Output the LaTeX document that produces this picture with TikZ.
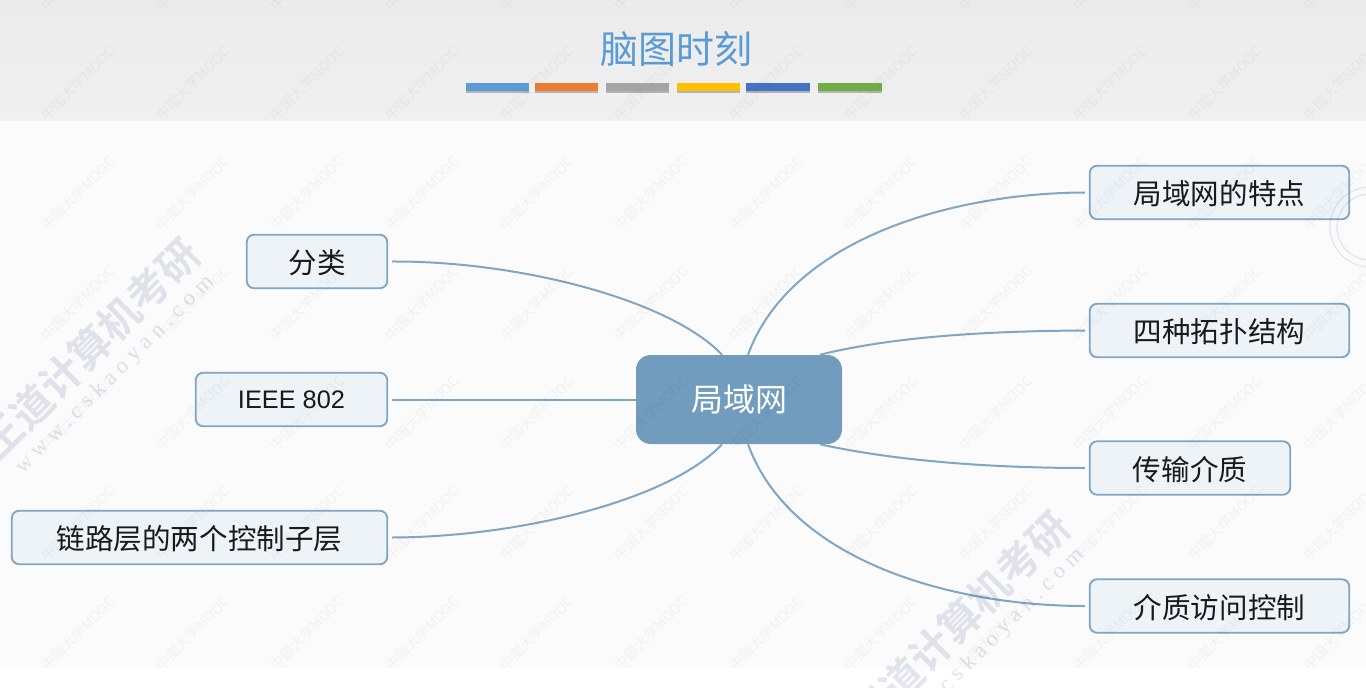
\documentclass[tikz,border=0pt]{standalone}
\usepackage{fontspec}
\usetikzlibrary{calc}
\setmainfont{Noto Sans CJK SC}
\newfontfamily\latinf{Liberation Sans}
\newfontfamily\urlf[LetterSpace=26]{Liberation Serif}
\newfontfamily\cjkbold{Noto Sans CJK SC Bold}
\definecolor{bandtop}{HTML}{EBEBEB}
\definecolor{bandbot}{HTML}{F0F0F0}
\definecolor{bodybg}{HTML}{FBFBFB}
\definecolor{linkc}{HTML}{7FA6C4}
\definecolor{hubc}{HTML}{719CBD}
\definecolor{boxc}{HTML}{EEF3F8}
\definecolor{wmbig}{HTML}{3F4F8F}
\definecolor{titlec}{HTML}{5B9BD5}
\tikzset{
  x=0.75pt,y=-0.75pt,
  link/.style={draw=linkc,line width=1.5pt},
  topic/.style={draw=linkc,fill=boxc,line width=1.4pt,rounded corners=5.5pt,inner sep=0pt,
     minimum height=53.5*0.75pt,text height=20pt,text depth=1.6pt,
     font=\fontsize{21.4pt}{24pt}\selectfont,text=black!90},
  hub/.style={fill=hubc,rounded corners=11pt,inner sep=0pt,minimum width=206*0.75pt,
     minimum height=89*0.75pt,text=white,font=\fontsize{24pt}{28pt}\selectfont},
  bar/.style={minimum width=63.5*0.75pt,minimum height=8*0.75pt,inner sep=0pt},
  barshadow/.style={fill=black,opacity=.25,minimum width=63.5*0.75pt,minimum height=8*0.75pt,inner sep=0pt},
  wmsmall/.style={rotate=45,text=black,opacity=.04,font=\fontsize{10.5pt}{12pt}\selectfont,inner sep=0pt},
  wmlarge/.style={rotate=45,text=wmbig,opacity=.14,font=\fontsize{31pt}{34pt}\cjkbold,inner sep=0pt},
  wmurl/.style={rotate=45,text=wmbig,opacity=.16,font=\fontsize{17pt}{19pt}\urlf,inner sep=0pt},
  seal/.style={draw=wmbig,opacity=.12,line width=1pt,fill=none},
}
\begin{document}
\begin{tikzpicture}
\useasboundingbox (0,0) rectangle (1366,688);
\begin{scope}
\clip (0,0) rectangle (1366,688);
\fill[white] (0,0) rectangle (1366,688);
\shade[top color=bandtop,bottom color=bandbot] (0,0) rectangle (1366,121);
\fill[bodybg] (0,121) rectangle (1366,668);

% title
\node[text=titlec,inner sep=0pt,font=\fontsize{28.5pt}{32pt}\selectfont] (title) at (676,49) {脑图时刻};
\foreach \n/\cx/\col in {a/497.5/5B9BD5,b/566.5/ED7D31,c/637.5/A5A5A5,d/708.5/FFC000,e/778/4472C4,f/850/70AD47}{
  \node[barshadow] (s\n) at (\cx,89.5) {};
  \definecolor{barc}{HTML}{\col}
  \node[bar,fill=barc] (b\n) at (\cx,87) {};
}

% nodes
\node[hub] (hubn) at (739,399.5) {局域网};
\node[topic,minimum width=259.5*0.75pt] (n1) at (1219.5,192.5) {局域网的特点};
\node[topic,minimum width=259.5*0.75pt] (n2) at (1219.5,330.5) {四种拓扑结构};
\node[topic,minimum width=200.5*0.75pt] (n3) at (1190,468) {传输介质};
\node[topic,minimum width=259.5*0.75pt] (n4) at (1219.5,606) {介质访问控制};
\node[topic,minimum width=140.5*0.75pt] (m1) at (317,261.5) {分类};
\node[topic,minimum width=191.5*0.75pt,text height=14pt,text depth=0.3pt,font=\fontsize{19pt}{22pt}\latinf] (m2) at (291.5,399.5) {IEEE 802};
\node[topic,minimum width=375.5*0.75pt] (m3) at (199.5,537.5) {链路层的两个控制子层};

% connectors
\draw[link] ($(hubn.north)+(9,0)$) .. controls (790,240) and (950,193) .. ($(n1.west)+(-4,0)$);
\draw[link] ($(hubn.north)+(81,0)$) .. controls (900,335) and (1000,331) .. ($(n2.west)+(-4,0)$);
\draw[link] ($(hubn.south)+(81,0)$) .. controls (900,462) and (1000,468) .. ($(n3.west)+(-4,0)$);
\draw[link] ($(hubn.south)+(9,0)$) .. controls (790,560) and (950,606) .. ($(n4.west)+(-4,0)$);
\draw[link] ($(hubn.north)+(-17,0)$) .. controls (670,300) and (520,261) .. ($(m1.east)+(4,0)$);
\draw[link] (hubn.west) -- ($(m2.east)+(4,0)$);
\draw[link] ($(hubn.south)+(-17,0)$) .. controls (670,500) and (520,537) .. ($(m3.east)+(4,0)$);

% watermarks
\foreach \k in {-1,...,11}{
  \foreach \r in {-1,...,5}{
    \pgfmathsetmacro{\wx}{78+114.7*\k}
    \pgfmathsetmacro{\wy}{83+110*\r}
    \node[wmsmall] (w\k r\r) at (\wx,\wy) {中国大学MOOC};
  }
}
\node[wmlarge] (big1) at (90,348) {王道计算机考研};
\node[wmlarge] (big2) at (960,621) {王道计算机考研};
\node[wmurl] (url1) at (115,375) {www.cskaoyan.com};
\node[wmurl] (url2) at (985,648) {www.cskaoyan.com};
\draw[seal] (1370,227) circle (40);
\draw[seal] (1370,227) circle (33);
\end{scope}
\end{tikzpicture}
\end{document}
